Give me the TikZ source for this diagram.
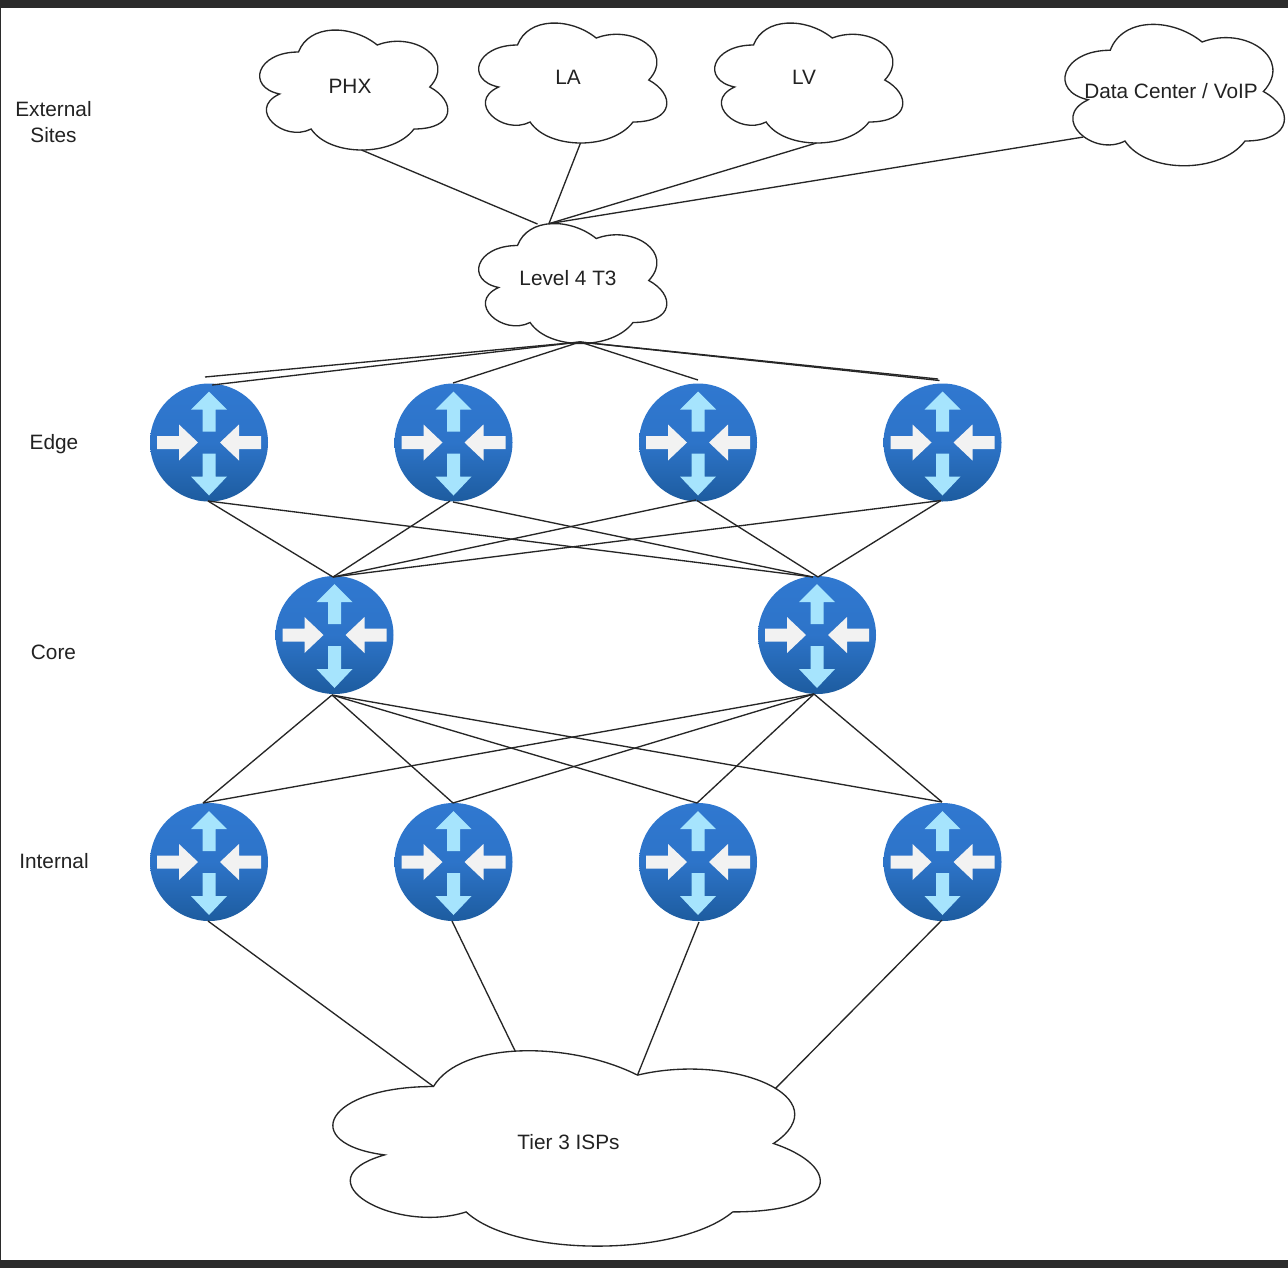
\documentclass[tikz,border=0pt]{standalone}
\usepackage{fontspec}
\setmainfont{Liberation Sans}
\definecolor{barc}{HTML}{2B2B2B}
\definecolor{rtop}{HTML}{3078D0}
\definecolor{rbot}{HTML}{1D5C9F}
\definecolor{arrblue}{HTML}{A6E4FD}
\definecolor{arrwhite}{HTML}{F2F2F2}
\definecolor{txt}{HTML}{222222}
\tikzset{
  x=0.75pt,y=-0.75pt,
  cloudline/.style={draw=black!85,line width=1pt,fill=white,line join=miter},
  link/.style={draw=black!85,line width=1pt},
  label/.style={inner sep=0pt,align=center,text=txt,font=\fontsize{15.6}{19.5}\selectfont},
  router/.style={circle,minimum size=88.5pt,inner sep=0pt,draw=none,
    top color=rtop,bottom color=rbot,middle color=rtop!85!rbot,shading angle=0},
  uparr/.style={fill=arrblue,draw=none},
  siderr/.style={fill=arrwhite,draw=none},
}
% cloud: name, x, y, w, h, label
\newcommand{\netcloud}[6]{%
  \begin{scope}[shift={(#2,#3)},x=#4*0.75pt,y=-#5*0.75pt]
    \path[cloudline] (.25,.25)
      .. controls (.05,.25) and (0,.5) .. (.16,.55)
      .. controls (0,.66) and (.18,.9) .. (.31,.8)
      .. controls (.4,1) and (.7,1) .. (.8,.8)
      .. controls (1,.8) and (1,.6) .. (.875,.5)
      .. controls (1,.3) and (.8,.1) .. (.625,.2)
      .. controls (.5,.05) and (.3,.05) .. (.25,.25) -- cycle;
    \node[label] (#1) at (.5,.5) {#6};
    \coordinate (#1-s) at (.55,.95);
    \coordinate (#1-n) at (.4,.094);
    \coordinate (#1-a) at (.25,.25);
    \coordinate (#1-b) at (.625,.2);
    \coordinate (#1-ne) at (.878,.26);
    \coordinate (#1-sw) at (.14,.776);
  \end{scope}}
% router: name, x, y
\newcommand{\netrouter}[3]{%
  \node[router] (#1) at (#2,#3) {};
  \begin{scope}[shift={(#2,#3)}]
    \fill[uparr] (0,-51) -- (18,-33) -- (6.5,-33) -- (6.5,-11) -- (-6.5,-11) -- (-6.5,-33) -- (-18,-33) -- cycle;
    \fill[uparr] (0,53) -- (18,34) -- (6.5,34) -- (6.5,11) -- (-6.5,11) -- (-6.5,34) -- (-18,34) -- cycle;
    \fill[siderr] (-11,0) -- (-30,-18) -- (-30,-6.5) -- (-52,-6.5) -- (-52,6.5) -- (-30,6.5) -- (-30,18) -- cycle;
    \fill[siderr] (11,0) -- (30,-18) -- (30,-6.5) -- (52,-6.5) -- (52,6.5) -- (30,6.5) -- (30,18) -- cycle;
  \end{scope}}
\begin{document}
\begin{tikzpicture}
\useasboundingbox (0,0) rectangle (1288,1268);
\fill[white] (0,0) rectangle (1288,1268);
\fill[barc] (0,0) rectangle (1288,8);
\fill[barc] (0,1260) rectangle (1288,1268);
\fill[barc] (0,0) rectangle (1,1268);

\netrouter{e1}{209}{442.5}
\netrouter{e2}{453.5}{442.5}
\netrouter{e3}{698}{442.5}
\netrouter{e4}{942.5}{442.5}
\netrouter{c1}{334.5}{635}
\netrouter{c2}{817}{635}
\netrouter{i1}{209}{862}
\netrouter{i2}{453.5}{862}
\netrouter{i3}{698}{862}
\netrouter{i4}{942.5}{862}

\netcloud{phx}{246}{17}{210}{140}{}
\netcloud{la}{465}{10}{210}{140}{}
\netcloud{lv}{701}{10}{210}{140}{}
\netcloud{dc}{1049}{9}{245}{165}{}
\netcloud{t3}{465}{210.5}{210}{140}{}
\netcloud{isp}{297.5}{1029.5}{544}{228}{}

\node[label] at (350,86) {PHX};
\node[label] at (568,77) {LA};
\node[label] at (804,77) {LV};
\node[label] at (1171,91) {Data Center / VoIP};
\node[label] at (568,278) {Level 4 T3};
\node[label] at (568.5,1142) {Tier 3 ISPs};
\node[label] (lext) at (53.5,122) {External\\Sites};
\node[label] (ledge) at (54,444) {Edge};
\node[label] (lcore) at (53.5,652) {Core};
\node[label] (lint) at (54,861) {Internal};

% connector ends that stop short of, or run past, the icons
\coordinate (t3w) at (537.5,224);
\coordinate (t3top) at (549,223.5);
\coordinate (t3mid) at (580,342);
\coordinate (e1a) at (205,377);
\coordinate (e1b) at (212,385);
\coordinate (e2n) at (453,383);
\coordinate (e3n) at (698,380);
\coordinate (e4a) at (938,379);
\coordinate (e4b) at (939.5,380.5);
\coordinate (c1n) at (333,577);
\coordinate (c2w) at (813,577);
\coordinate (c2n) at (818,577);
\coordinate (e1s) at (208,501);
\coordinate (e2sl) at (450,501);
\coordinate (e2sr) at (453,502);
\coordinate (e3sl) at (696,500);
\coordinate (e3sr) at (697,500.5);
\coordinate (e4s) at (941,500.5);
\coordinate (c1s) at (332,695);
\coordinate (c2s) at (814,694);
\coordinate (i1n) at (203,803);
\coordinate (i2n) at (453,803);
\coordinate (i3n) at (697,803);
\coordinate (i4n) at (942,802);
\coordinate (i1s) at (208,921);
\coordinate (i2s) at (452,921);
\coordinate (i3s) at (699,922);
\coordinate (i4s) at (942,920);

\path[link] (phx-s) -- (t3w);
\path[link] (la-s) -- (t3top);
\path[link] (lv-s) -- (t3-n);
\path[link] (dc-sw) -- (t3-n);

\path[link] (t3mid) -- (e1a);
\path[link] (t3mid) -- (e1b);
\path[link] (t3mid) -- (e2n);
\path[link] (t3mid) -- (e3n);
\path[link] (t3mid) -- (e4a);
\path[link] (t3mid) -- (e4b);

\path[link] (e1s) -- (c1n);
\path[link] (e1s) -- (c2w);
\path[link] (e2sl) -- (c1n);
\path[link] (e2sr) -- (c2w);
\path[link] (e3sl) -- (c1n);
\path[link] (e3sr) -- (c2n);
\path[link] (e4s) -- (c1n);
\path[link] (e4s) -- (c2n);

\foreach \a in {i1n,i2n,i3n,i4n}{
  \path[link] (c1s) -- (\a);
  \path[link] (c2s) -- (\a);
}
\path[link] (i1s) -- (isp-a);
\path[link] (i2s) -- (isp-n);
\path[link] (i3s) -- (isp-b);
\path[link] (i4s) -- (isp-ne);
\end{tikzpicture}
\end{document}
